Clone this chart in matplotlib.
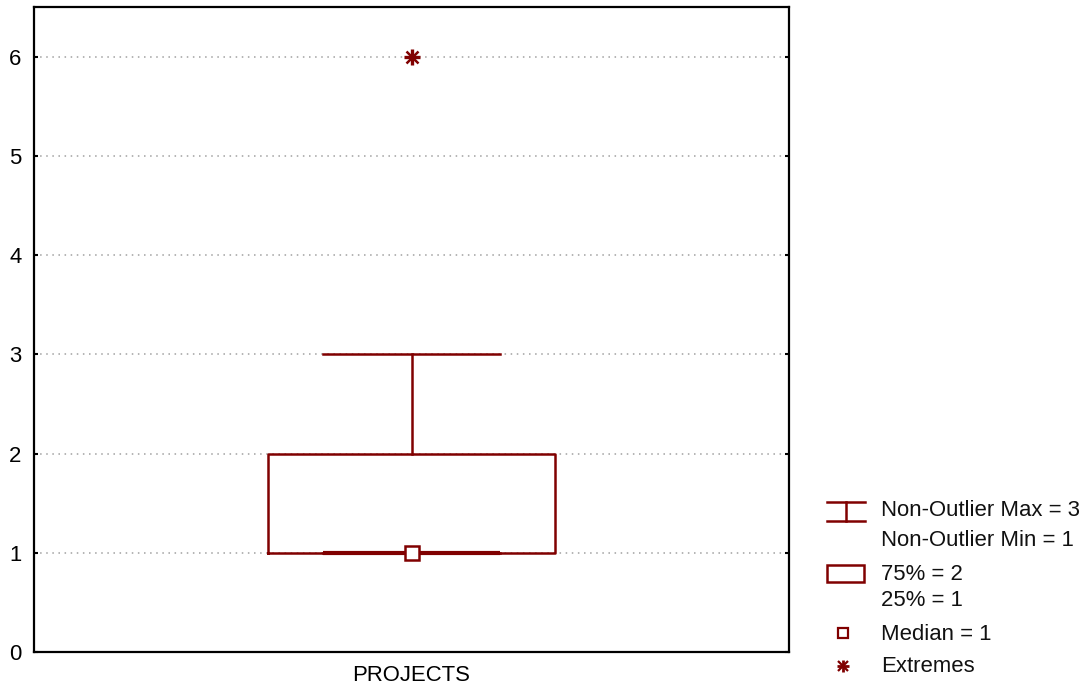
import matplotlib
matplotlib.use("Agg")
import matplotlib.pyplot as plt
from matplotlib.lines import Line2D
from matplotlib.patches import Rectangle

plt.rcParams['font.family'] = ['Liberation Sans', 'DejaVu Sans']

# summary values for the box
label = 'PROJECTS'
q1 = 1
q3 = 2
median = 1
whis_lo = 1
whis_hi = 3
extremes = [6]
yticks = [0, 1, 2, 3, 4, 5, 6]

red = '#800000'
fs = 15.9

fig = plt.figure(figsize=(10.88, 6.89), dpi=100)
ax = fig.add_axes([0.03125, 0.0537, 0.694, 0.9361])

stats = [dict(med=median, q1=q1, q3=q3, whislo=whis_lo, whishi=whis_hi,
              fliers=[], label=label)]
ax.bxp(stats, positions=[1], widths=0.379, capwidths=0.234,
       boxprops=dict(color=red, lw=1.8),
       whiskerprops=dict(color=red, lw=1.8),
       capprops=dict(color=red, lw=1.8),
       medianprops=dict(color=red, lw=0),
       showfliers=False, zorder=3)
# thicker lower cap sitting on the box bottom
ax.plot([1 - 0.117, 1 + 0.117], [whis_lo, whis_lo], color=red, lw=3, zorder=3,
        solid_capstyle='butt')
ax.plot([1], [median], marker='s', ms=10, mfc='white', mec=red, mew=1.8,
        ls='none', zorder=4)
ax.plot([1] * len(extremes), extremes, marker='+', ms=12, mew=2.4, color=red,
        ls='none', zorder=4)
ax.plot([1] * len(extremes), extremes, marker='x', ms=8.5, mew=1.8, color=red,
        ls='none', zorder=4)

ax.set_xlim(0.5, 1.5)
ax.set_ylim(0, 6.5)
ax.set_yticks(yticks)
ax.set_xticks([1])
ax.set_xticklabels([label])
for v in yticks[1:]:
    ax.axhline(v, color='#a0a0a0', lw=1.1, ls=(0, (1, 3)), zorder=1)
ax.tick_params(axis='y', direction='in', length=3, width=1.5, right=True,
               labelsize=fs, pad=9)
ax.tick_params(axis='x', length=0, labelsize=fs, pad=9)
for s in ax.spines.values():
    s.set_linewidth(1.6)
    s.set_color('black')

# legend drawn by hand in figure pixels
W, H = 1088, 689

def fx(x):
    return x / W

def fy(y):
    return 1 - y / H

lw = 1.8
fig.add_artist(Line2D([fx(827), fx(865)], [fy(502), fy(502)], color=red, lw=lw))
fig.add_artist(Line2D([fx(827), fx(865)], [fy(521), fy(521)], color=red, lw=lw))
fig.add_artist(Line2D([fx(846), fx(846)], [fy(502), fy(521)], color=red, lw=lw))
fig.add_artist(Rectangle((fx(827), fy(582)), fx(37), 17 / H, fill=False,
                         ec=red, lw=lw))
fig.add_artist(Line2D([fx(843)], [fy(633)], marker='s', ms=7.5, mfc='white',
                      mec=red, mew=1.6, ls='none'))
fig.add_artist(Line2D([fx(843)], [fy(666)], marker='+', ms=9, mew=2, color=red,
                      ls='none'))
fig.add_artist(Line2D([fx(843)], [fy(666)], marker='x', ms=6.5, mew=1.6,
                      color=red, ls='none'))

texts = [('Non-Outlier Max = 3', 511), ('Non-Outlier Min = 1', 540),
         ('75% = 2', 575), ('25% = 1', 601), ('Median = 1', 634),
         ('Extremes', 667)]
for t, y in texts:
    fig.text(fx(881), fy(y), t, fontsize=fs, va='center', ha='left',
             color='#111111')

fig.savefig('out.png', dpi=100)
